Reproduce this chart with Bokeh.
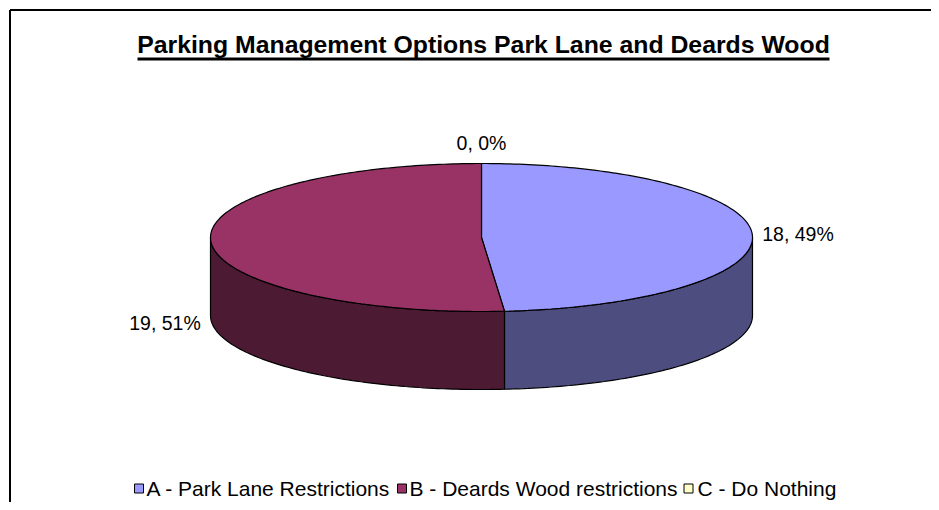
import math
from bokeh.plotting import figure
from bokeh.models import Range1d
from bokeh.core.properties import value
from bokeh.embed import file_html
from bokeh.resources import INLINE

# ---- data ----
categories = ["A - Park Lane Restrictions", "B - Deards Wood restrictions", "C - Do Nothing"]
counts = [18, 19, 0]
top_colors = ["#9999FF", "#993366", "#FFFFCC"]
side_colors = ["#4D4D80", "#4D1A33", "#80806A"]
title_text = "Parking Management Options Park Lane and Deards Wood"

# ---- layout (image pixel coordinates) ----
W, H = 931, 502
CX, CY = 481, 237       # centre of top ellipse
A, B = 271, 74          # semi-axes
DEPTH = 78
FONT = "Liberation Sans"

p = figure(width=W, height=H, x_range=Range1d(0, W), y_range=Range1d(H, 0),
           output_backend="svg", toolbar_location=None, min_border=0)
p.axis.visible = False
p.grid.visible = False
p.outline_line_color = None
p.background_fill_color = "white"

# chart frame (top and left edges visible)
p.segment(x0=[9.5, 9.5], y0=[9.5, 9.5], x1=[9.5, 940], y1=[520, 9.5], line_color="black", line_width=2)

total = sum(counts)
fracs = [c / total for c in counts]
starts, ends = [], []
acc = 0.0
for f in fracs:
    starts.append(acc * 360)
    acc += f
    ends.append(acc * 360)

def pt(theta_deg, dy=0.0):
    t = math.radians(theta_deg)
    return CX + A * math.sin(t), CY - B * math.cos(t) + dy

def arc(t1, t2, dy=0.0, n=None):
    if n is None:
        n = max(2, int(abs(t2 - t1) / 1.0) + 1)
    return [pt(t1 + (t2 - t1) * i / (n - 1), dy) for i in range(n)]

# side walls (front half: 90..270 deg clockwise from top)
for s, e, c in zip(starts, ends, side_colors):
    lo, hi = max(s, 90), min(e, 270)
    if hi - lo <= 0:
        continue
    topa = arc(lo, hi)
    bota = arc(hi, lo, DEPTH)
    pts = topa + bota
    p.patch([q[0] for q in pts], [q[1] for q in pts], fill_color=c, line_color="black", line_width=1.2)

# top faces
for s, e, c in zip(starts, ends, top_colors):
    if e - s <= 0:
        continue
    pts = [(CX, CY)] + arc(s, e)
    p.patch([q[0] for q in pts], [q[1] for q in pts], fill_color=c, line_color="black", line_width=1.2)

# data labels
label_dy = [0, 82, 0]
for s, e, cnt, f, dy in zip(starts, ends, counts, fracs, label_dy):
    mid = math.radians((s + e) / 2)
    sx, cy_ = math.sin(mid), math.cos(mid)
    lx = CX + (A + 10) * sx
    ly = CY - (B + 10) * cy_ + dy
    if sx > 0.3:
        align, base = "left", "middle"
    elif sx < -0.3:
        align, base = "right", "middle"
    else:
        align, base = "center", "bottom" if cy_ > 0 else "top"
    p.text(x=[lx], y=[ly], text=[f"{cnt}, {round(f * 100)}%"], text_font=value(FONT),
           text_font_size="19.5px", text_align=align, text_baseline=base, text_color="black")

# title with underline
p.text(x=[CX + 2], y=[44], text=[title_text], text_font=value(FONT), text_font_style="bold",
       text_font_size="24.8px", text_align="center", text_baseline="middle", text_color="black")
p.segment(x0=[137], y0=[58.5], x1=[829], y1=[58.5], line_color="black", line_width=3)

# legend
leg_sq_x = [138.5, 401.5, 688]
leg_tx_x = [146, 409, 697]
LEG_Y = 488
p.rect(x=leg_sq_x, y=[LEG_Y] * 3, width=9, height=9, fill_color=top_colors, line_color="black", line_width=1)
p.text(x=leg_tx_x, y=[LEG_Y] * 3, text=categories, text_font=value(FONT), text_font_size="21px",
       text_align="left", text_baseline="middle", text_color="black")

open("out.html", "w").write(file_html(p, INLINE))
